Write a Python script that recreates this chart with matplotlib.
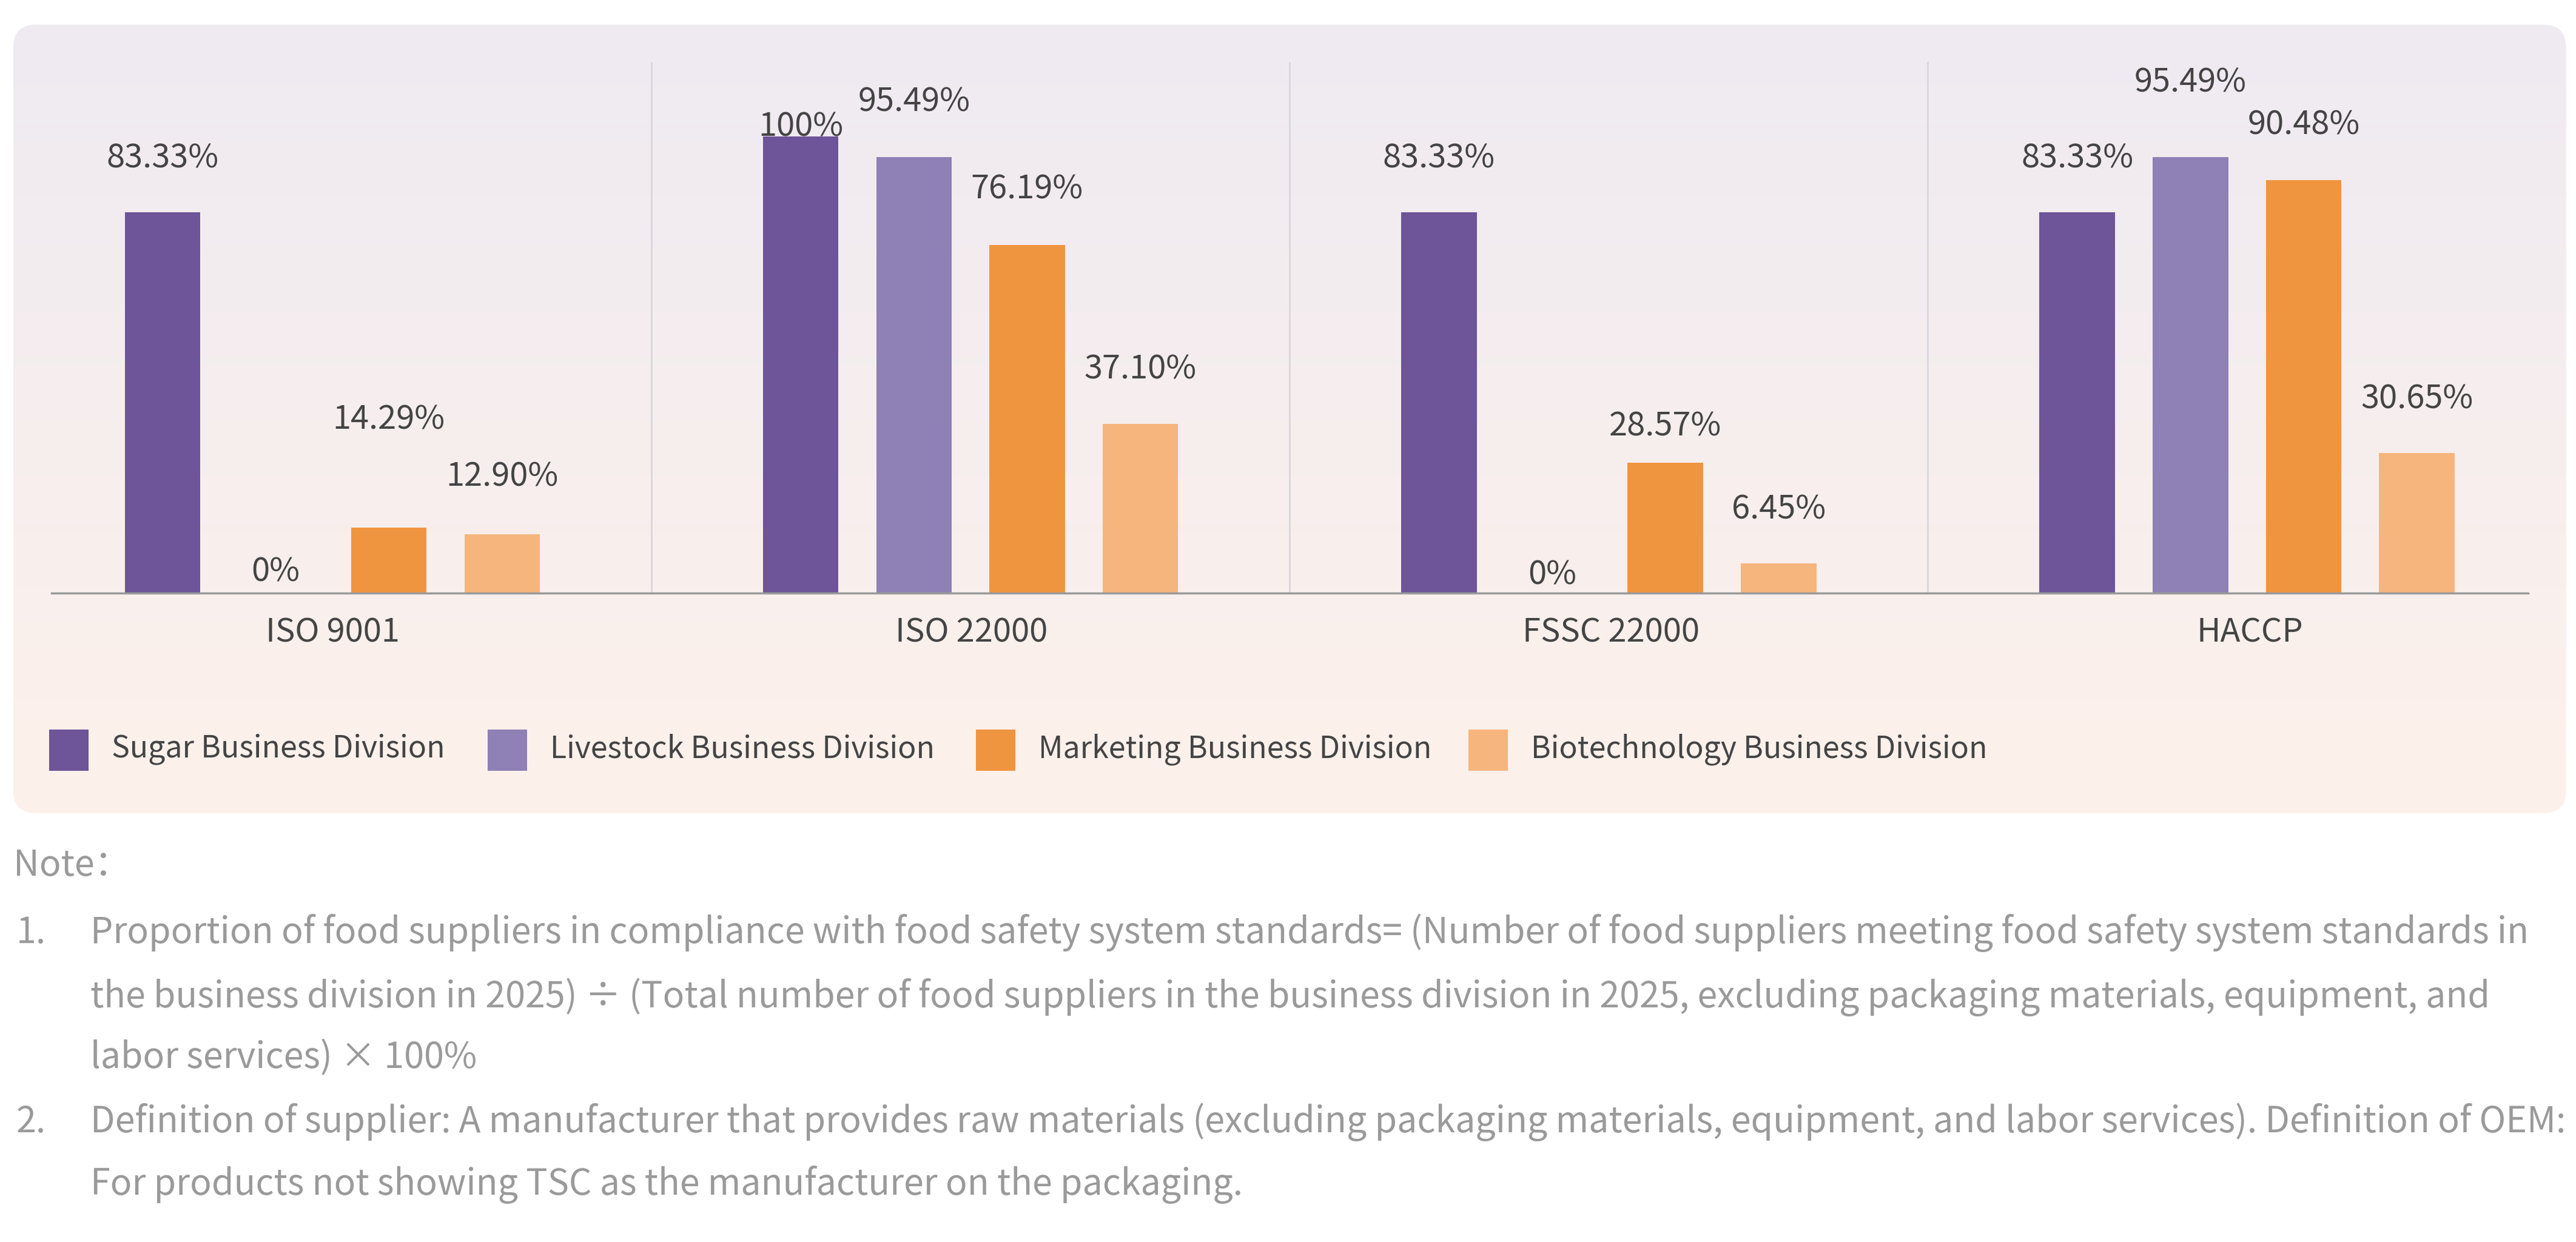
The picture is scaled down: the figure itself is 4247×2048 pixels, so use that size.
import numpy as np
import matplotlib.pyplot as plt
from matplotlib.patches import FancyBboxPatch, Rectangle

plt.rcParams['font.family'] = ['Noto Sans CJK SC', 'DejaVu Sans']

categories = ["ISO 9001", "ISO 22000", "FSSC 22000", "HACCP"]
series = ["Sugar Business Division", "Livestock Business Division",
          "Marketing Business Division", "Biotechnology Business Division"]
sugar = [83.33, 100, 83.33, 83.33]
livestock = [0, 95.49, 0, 95.49]
marketing = [14.29, 76.19, 28.57, 90.48]
biotech = [12.90, 37.10, 6.45, 30.65]
labels = [["83.33%", "100%", "83.33%", "83.33%"],
          ["0%", "95.49%", "0%", "95.49%"],
          ["14.29%", "76.19%", "28.57%", "90.48%"],
          ["12.90%", "37.10%", "6.45%", "30.65%"]]
colors = ["#6e5499", "#8f80b5", "#f0953f", "#f6b57c"]
notes = ["Note：",
         "1.", "Proportion of food suppliers in compliance with food safety system standards= (Number of food suppliers meeting food safety system standards in",
         "the business division in 2025) ÷ (Total number of food suppliers in the business division in 2025, excluding packaging materials, equipment, and",
         "labor services) × 100%",
         "2.", "Definition of supplier: A manufacturer that provides raw materials (excluding packaging materials, equipment, and labor services). Definition of OEM:",
         "For products not showing TSC as the manufacturer on the packaging."]

# label gap above bar top (display px of reference), per series per group
gaps = [[33, 6, 33, 33], [13, 33.5, 11, 45.5], [66, 34, 22, 33.5], [35, 33, 33, 33]]

W, H = 1568, 756
fx = lambda p: p / W
fy = lambda p: 1 - p / H

fig = plt.figure(figsize=(42.47, 20.48), dpi=100)

bg = fig.add_axes([0, 0, 1, 1])
bg.set_xlim(0, W); bg.set_ylim(H, 0); bg.axis('off')
grad = np.linspace(0, 1, 256)[:, None]
c1 = np.array([0.937, 0.918, 0.949]); c2 = np.array([0.992, 0.945, 0.918])
img = c1 + (c2 - c1) * grad[..., None]
im = bg.imshow(img, extent=(8, 1562, 495, 15), aspect='auto', zorder=0)
patch = FancyBboxPatch((8, 15), 1554, 480, boxstyle="round,pad=0,rounding_size=14",
                       transform=bg.transData, facecolor='none', edgecolor='none')
bg.add_patch(patch)
im.set_clip_path(patch)

ax = fig.add_axes([fx(8), fy(361), 1554 / W, 278 / H])
ax.patch.set_alpha(0)
ax.set_xlim(-0.5, 3.5); ax.set_ylim(0, 100)
ax.axis('off')
x = np.arange(len(categories))
step, w = 69 / 389, 46 / 389
data = [sugar, livestock, marketing, biotech]
for i, (vals, col) in enumerate(zip(data, colors)):
    xs = x + (i - 1.5) * step
    ax.bar(xs, vals, width=w, color=col, label=series[i], zorder=3)
    for xx, v, lab, g in zip(xs, vals, labels[i], gaps[i]):
        ax.annotate(lab, (xx, v), xytext=(0, g * 1.95), textcoords='offset points',
                    ha='center', va='center', fontsize=39, color='#444444',
                    annotation_clip=False)
for b in [0.5, 1.5, 2.5]:
    ax.plot([b, b], [0, 100 * (361 - 38) / 278], color='#d9d6dc', lw=2, clip_on=False)
ax.plot([-0.44, 3.44], [0, 0], color='#9a9a9a', lw=2.5, clip_on=False, zorder=4)
for xx, c in zip(x, categories):
    fig.text(fx(8 + 389 * (xx + 0.5)), fy(385), c, ha='center', va='center', fontsize=39, color='#444444')

lx = [30, 297, 594, 894]
for px, col, s in zip(lx, colors, series):
    fig.patches.append(Rectangle((fx(px), fy(469)), 24 / W, 25 / H, transform=fig.transFigure,
                                 facecolor=col, edgecolor='none'))
    fig.text(fx(px + 38), fy(456), s, ha='left', va='center', fontsize=36, color='#444444')

nc = '#9a9a9a'
fs = 42.5
fig.text(fx(8), fy(527), notes[0], ha='left', va='center', fontsize=fs, color=nc)
fig.text(fx(10), fy(568), notes[1], ha='left', va='center', fontsize=fs, color=nc)
fig.text(fx(55), fy(568), notes[2], ha='left', va='center', fontsize=fs, color=nc)
fig.text(fx(55), fy(607), notes[3], ha='left', va='center', fontsize=fs, color=nc)
fig.text(fx(55), fy(644), notes[4], ha='left', va='center', fontsize=fs, color=nc)
fig.text(fx(10), fy(683), notes[5], ha='left', va='center', fontsize=fs, color=nc)
fig.text(fx(55), fy(683), notes[6], ha='left', va='center', fontsize=fs, color=nc)
fig.text(fx(55), fy(721), notes[7], ha='left', va='center', fontsize=fs, color=nc)

fig.savefig('out.png', dpi=100, facecolor='white')
